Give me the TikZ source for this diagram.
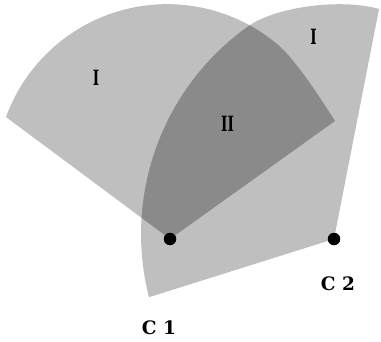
\documentclass[tikz,border=0pt]{standalone}
\usepackage{fontspec}
\setmainfont{DejaVu Serif}
\definecolor{lightsec}{gray}{0.75}
\definecolor{darksec}{gray}{0.54}
\tikzset{
  dot/.style={circle, fill=black, inner sep=0pt, minimum size=12.5pt},
  roman/.style={font=\fontsize{21}{21}\selectfont\bfseries, inner sep=0pt},
  clabel/.style={font=\fontsize{18.5}{18.5}\selectfont\bfseries, inner sep=0pt}
}
\begin{document}
\begin{tikzpicture}[x=1pt,y=1pt]
\useasboundingbox (0,0) rectangle (381,341);
\coordinate (C1) at (170,102);
\coordinate (C2) at (334,102);
\def\sectorone{(C1) -- (6,224) arc[start angle=160, end angle=50, radius=171.5] .. controls (296.3,280.8) and (321.5,241) .. (335,220) -- cycle}
\def\sectortwo{(C2) -- (149,43.8) arc[start angle=194.35, end angle=124.6, radius=255] .. controls (283,336) and (345,342) .. (379,332) -- cycle}
\fill[lightsec] \sectorone;
\fill[lightsec] \sectortwo;
\begin{scope}
  \clip \sectorone;
  \fill[darksec] \sectortwo;
\end{scope}
\node[dot] (c1) at (C1) {};
\node[dot] (c2) at (C2) {};
\node[roman] (r1) at (96,263) {\scalebox{0.65}[1]{I}};
\node[roman] (r2) at (313.5,304.5) {\scalebox{0.65}[1]{I}};
\node[roman] (r3) at (227.5,217.5) {\scalebox{0.65}[1]{II}};
\node[clabel] (l1) at (159,13) {C 1};
\node[clabel] (l2) at (338,57) {C 2};
\end{tikzpicture}
\end{document}
